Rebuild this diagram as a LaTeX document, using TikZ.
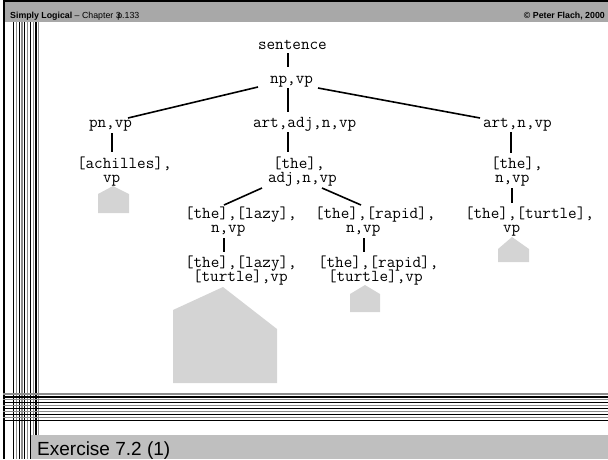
\documentclass[tikz,border=0pt]{standalone}
\usepackage{fontspec}
\setmainfont{Liberation Sans}
\newfontfamily\monofont{Latin Modern Mono}
\newcommand\twolines[2]{\vtop{\baselineskip=14.2pt\lineskiplimit=-50pt\lineskip=0pt\hbox{#1}\hbox{#2}}}
\tikzset{
  tn/.style={anchor=base west, inner sep=0pt, outer sep=0pt, font=\monofont\fontsize{16.7pt}{14.2pt}\selectfont},
  edge/.style={line width=1.6pt},
  subtree/.style={fill=black!17, draw=none},
  vblack/.style={line width=1.2pt, black},
  vgray/.style={line width=1.2pt, black!45},
}
\begin{document}
\begin{tikzpicture}[x=1pt,y=-1pt]
\useasboundingbox (0,0) rectangle (608,459);
% frame
\fill[black!34] (3,2) rectangle (608,22);
\fill[black] (3,0) rectangle (608,2);
\fill[black] (3,0) rectangle (4.7,459);
\foreach \k in {0,...,9}{
  \pgfmathsetmacro\xx{13.5+2.8*\k}
  \ifodd\k \draw[vgray] (\xx,22) -- (\xx,459); \else \draw[vblack] (\xx,22) -- (\xx,459); \fi
}
\foreach \k in {0,...,9}{
  \pgfmathsetmacro\yy{394+2.9*\k}
  \ifodd\k \draw[vblack] (3,\yy) -- (608,\yy); \else \draw[vgray] (3,\yy) -- (608,\yy); \fi
}
\fill[black!25] (31,435) rectangle (608,459);
\node[anchor=base west, inner sep=0pt, font=\fontsize{8.8pt}{10pt}\selectfont] (hdrl) at (10,18) {\textbf{Simply Logical} – Chapter \rlap{3}\kern1.5pt p.133};
\node[anchor=base east, inner sep=0pt, font=\fontsize{8.8pt}{10pt}\selectfont\bfseries] (hdrr) at (605,18) {© Peter Flach, 2000};
\node[anchor=base west, inner sep=0pt, font=\fontsize{19pt}{22pt}\selectfont] (ex) at (37,455) {Exercise 7.2 (1)};
% tree nodes
\node[tn] (sentence) at (258,49) {sentence};
\node[tn] (np) at (270,83) {np,vp};
\node[tn] (pn) at (89,127) {pn,vp};
\node[tn] (aanv) at (253,127) {art,adj,n,vp};
\node[tn] (anv) at (483,127) {art,n,vp};
\node[tn] (ach) at (77,168) {\twolines{[achilles],}{\kern26pt vp}};
\node[tn] (the1) at (268,168) {\twolines{\kern5pt[the],}{adj,n,vp}};
\node[tn] (the2) at (491,168) {\twolines{[the],}{\kern4pt n,vp}};
\node[tn] (lazy1) at (185,218) {\twolines{[the],[lazy],}{\kern26pt n,vp}};
\node[tn] (rapid1) at (315,218) {\twolines{[the],[rapid],}{\kern31pt n,vp}};
\node[tn] (turtle1) at (465,218) {\twolines{[the],[turtle],}{\kern38pt vp}};
\node[tn] (lazy2) at (185,267) {\twolines{[the],[lazy],}{\kern8pt[turtle],vp}};
\node[tn] (rapid2) at (318,267) {\twolines{[the],[rapid],}{\kern10pt[turtle],vp}};
% edges
\draw[edge] ([xshift=30pt,yshift=-4pt]sentence.base west) -- ([xshift=18pt,yshift=16pt]np.base west);
\draw[edge] ([xshift=-12pt,yshift=-4pt]np.base west) -- ([xshift=39pt,yshift=9pt]pn.base west);
\draw[edge] ([xshift=18pt,yshift=-5pt]np.base west) -- ([xshift=35pt,yshift=15pt]aanv.base west);
\draw[edge] ([xshift=48pt,yshift=-5pt]np.base west) -- ([xshift=-3pt,yshift=9pt]anv.base west);
\draw[edge] ([xshift=23pt,yshift=-6pt]pn.base west) -- ([xshift=35pt,yshift=16pt]ach.base west);
\draw[edge] ([xshift=35pt,yshift=-5pt]aanv.base west) -- ([xshift=20pt,yshift=16pt]the1.base west);
\draw[edge] ([xshift=28pt,yshift=-5pt]anv.base west) -- ([xshift=20pt,yshift=15pt]the2.base west);
\draw[edge] ([xshift=-6pt,yshift=-20pt]the1.base west) -- ([xshift=39pt,yshift=13pt]lazy1.base west);
\draw[edge] ([xshift=54pt,yshift=-20pt]the1.base west) -- ([xshift=46pt,yshift=13pt]rapid1.base west);
\draw[edge] ([xshift=39pt,yshift=-20pt]lazy1.base west) -- ([xshift=39pt,yshift=15pt]lazy2.base west);
\draw[edge] ([xshift=49pt,yshift=-20pt]rapid1.base west) -- ([xshift=46pt,yshift=15pt]rapid2.base west);
\draw[edge] ([xshift=21pt,yshift=-20pt]the2.base west) -- ([xshift=47pt,yshift=15pt]turtle1.base west);
% subtrees
\fill[subtree] (98,213) -- (98,194) -- (113,186) -- (129,194) -- (129,213) -- cycle;
\fill[subtree] (173,383) -- (173,310) -- (223,287) -- (277,329) -- (277,383) -- cycle;
\fill[subtree] (350,312) -- (350,294) -- (365,285) -- (380,294) -- (380,312) -- cycle;
\fill[subtree] (498,262) -- (498,249) -- (512,237) -- (529,249) -- (529,262) -- cycle;
\end{tikzpicture}
\end{document}
